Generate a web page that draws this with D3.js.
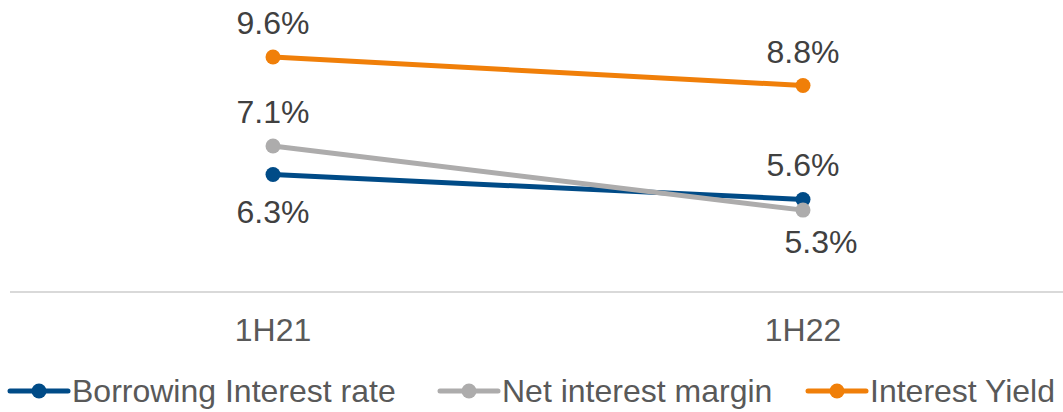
<!DOCTYPE html>
<html>
<head>
<meta charset="utf-8">
<script src="https://cdn.jsdelivr.net/npm/d3@7"></script>
<style>
  html, body { margin: 0; padding: 0; background: #fff; }
  svg { display: block; font-family: "Liberation Sans", Arial, sans-serif; }
</style>
</head>
<body>
<svg id="chart" width="1063" height="412"></svg>
<script>
// Periods on the x axis
const categories = ["1H21", "1H22"];

// Series names and values (percent)
const seriesNames = ["Borrowing Interest rate", "Net interest margin", "Interest Yield"];
const borrowingRate = [6.3, 5.6];
const netInterestMargin = [7.1, 5.3];
const interestYield = [9.6, 8.8];

const seriesValues = [borrowingRate, netInterestMargin, interestYield];
const seriesColors = ["#004B87", "#ADACAC", "#F07F09"];

// Label placement for each series/point: above or below the marker
const labelSide = [["below", "above"], ["above", "below"], ["above", "above"]];

const svg = d3.select("#chart");
const W = 1063;
const FONT = 32;

const x = d3.scalePoint().domain(categories).range([8, 1068]).padding(0.5);
const y = d3.scaleLinear().domain([3, 11]).range([292, 7.2]);

// Category axis baseline
svg.append("line")
  .attr("x1", 10).attr("x2", W)
  .attr("y1", y(3)).attr("y2", y(3))
  .attr("stroke", "#D9D9D9").attr("stroke-width", 2);

// Category labels
svg.selectAll("text.cat").data(categories).join("text")
  .attr("class", "cat")
  .attr("x", d => x(d))
  .attr("y", 341)
  .attr("text-anchor", "middle")
  .attr("font-size", FONT)
  .attr("fill", "#595959")
  .text(d => d);

const line = d3.line().x((d, i) => x(categories[i])).y(d => y(d));

seriesValues.forEach((vals, s) => {
  const g = svg.append("g");
  g.append("path")
    .datum(vals)
    .attr("d", line)
    .attr("fill", "none")
    .attr("stroke", seriesColors[s])
    .attr("stroke-width", 5)
    .attr("stroke-linecap", "round");
  g.selectAll("circle").data(vals).join("circle")
    .attr("cx", (d, i) => x(categories[i]))
    .attr("cy", d => y(d))
    .attr("r", 7.5)
    .attr("fill", seriesColors[s]);
});

// Data labels
seriesValues.forEach((vals, s) => {
  vals.forEach((v, i) => {
    const side = labelSide[s][i];
    let dx = 0;
    // Keep the lowest label clear of the crossing lines
    if (s === 1 && i === 1) dx = 18;
    svg.append("text")
      .attr("x", x(categories[i]) + dx)
      .attr("y", y(v) + (side === "above" ? -23 : (s === 1 ? 43 : 48)))
      .attr("text-anchor", "middle")
      .attr("font-size", FONT)
      .attr("fill", "#404040")
      .text(d3.format(".1f")(v) + "%");
  });
});

// Legend
const legendX = [10, 440, 808];
const legendY = 391;
seriesNames.forEach((name, s) => {
  const g = svg.append("g").attr("transform", `translate(${legendX[s]},${legendY})`);
  g.append("line")
    .attr("x1", 0).attr("x2", 58)
    .attr("y1", 0).attr("y2", 0)
    .attr("stroke", seriesColors[s]).attr("stroke-width", 5)
    .attr("stroke-linecap", "round");
  g.append("circle").attr("cx", 29).attr("cy", 0).attr("r", 7.5).attr("fill", seriesColors[s]);
  g.append("text")
    .attr("x", 62).attr("y", 11)
    .attr("font-size", FONT)
    .attr("fill", "#595959")
    .text(name);
});
</script>
</body>
</html>
